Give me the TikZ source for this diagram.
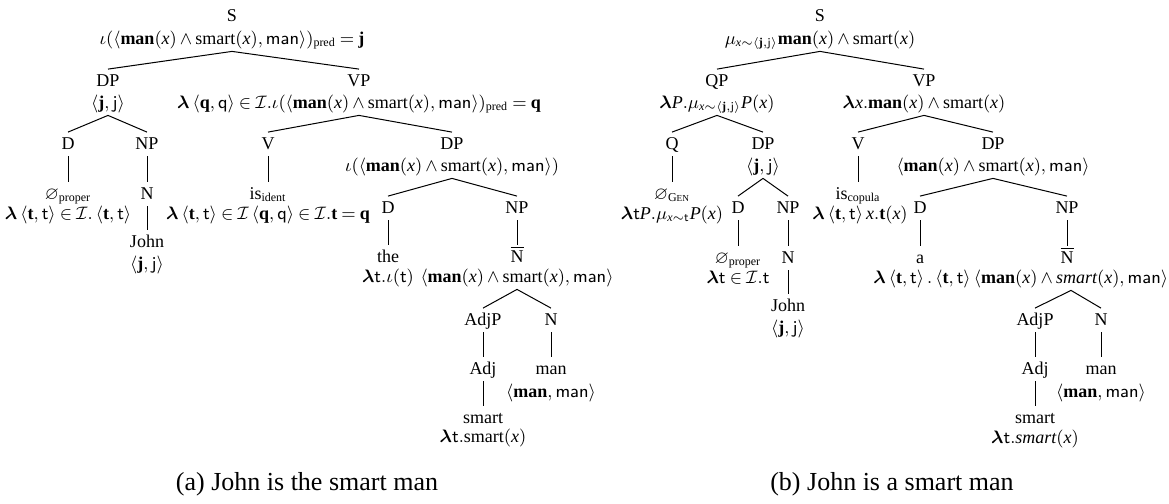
\documentclass[tikz,border=0pt]{standalone}
\usepackage{amsmath,amssymb}
\usepackage{bm}
\usepackage{fontspec}
\setmainfont{Liberation Serif}
\newcommand{\sv}[1]{\text{\normalfont\sffamily #1}}
\newcommand{\bmn}{\mathbf{man}}
\newcommand{\lam}{\bm{\lambda}}
\newcommand{\sI}{\mathcal{I}}
\newcommand{\vx}{\mathit{x}}
\newcommand{\vP}{\mathit{P}}
\newcommand{\pairt}{\langle\mathbf{t},\sv{t}\rangle}
\newcommand{\gencap}{\text{G\fontsize{4.6}{5}\selectfont EN}}
\newcommand{\treefont}{\fontsize{9}{11}\selectfont\medmuskip=3mu plus 2mu minus 3mu\thickmuskip=4mu plus 3mu}
\newcommand{\capfont}{\fontsize{13}{15}\selectfont}
\tikzset{
  lbl/.style={inner xsep=0pt, inner ysep=2pt, text height=6.25pt, text depth=1.5pt, anchor=base, font=\treefont},
  capt/.style={anchor=base, font=\capfont, inner sep=0pt},
  conn/.style={draw, line width=0.5pt}
}
\begin{document}
\begin{tikzpicture}[x=0.5pt,y=-0.5pt]
\useasboundingbox (0,0) rectangle (1169,504);
% ---------- tree (a) ----------
\node[lbl] (aS) at (232,21) {S};
\node[lbl] (aSf) at (232,44) {$\iota(\langle\bmn(\vx)\wedge\mathrm{smart}(\vx),\sv{man}\rangle)_{\mathrm{pred}}=\mathbf{j}$};
\node[lbl] (aDP) at (108,86) {DP};
\node[lbl] (aDPf) at (108,108) {$\langle\mathbf{j},\sv{j}\rangle$};
\node[lbl] (aVP) at (359,86) {VP};
\node[lbl] (aVPf) at (359,108) {$\lam\,\langle\mathbf{q},\sv{q}\rangle\in\sI.\iota(\langle\bmn(\vx)\wedge\mathrm{smart}(\vx),\sv{man}\rangle)_{\mathrm{pred}}=\mathbf{q}$};
\node[lbl] (aD) at (68,149) {D};
\node[lbl] (aDe) at (68,199) {$\varnothing_{\text{proper}}$};
\node[lbl] (aDf) at (68,219) {$\lam\,\pairt\in\sI.\,\pairt$};
\node[lbl] (aNP) at (147,149) {NP};
\node[lbl] (aN) at (147,199) {N};
\node[lbl] (aJ) at (147,247) {John};
\node[lbl] (aJf) at (147,269) {$\langle\mathbf{j},\sv{j}\rangle$};
\node[lbl] (aV) at (268,149) {V};
\node[lbl] (aIs) at (268,199) {is$_{\text{ident}}$};
\node[lbl] (aIsf) at (268,219) {$\lam\,\pairt\in\sI\,\langle\mathbf{q},\sv{q}\rangle\in\sI.\mathbf{t}=\mathbf{q}$};
\node[lbl] (aDP2) at (452,149) {DP};
\node[lbl] (aDP2f) at (452,171) {$\iota(\langle\bmn(\vx)\wedge\mathrm{smart}(\vx),\sv{man}\rangle)$};
\node[lbl] (aD2) at (388,213) {D};
\node[lbl] (aThe) at (388,262) {the};
\node[lbl] (aThef) at (388,282) {$\lam\sv{t}.\iota(\sv{t})$};
\node[lbl] (aNP2) at (517,213) {NP};
\node[lbl] (aNb) at (517,262) {$\overline{\text{N}}$};
\node[lbl] (aNbf) at (517,282) {$\langle\bmn(\vx)\wedge\mathrm{smart}(\vx),\sv{man}\rangle$};
\node[lbl] (aAdjP) at (483,325) {AdjP};
\node[lbl] (aAdj) at (483,374) {Adj};
\node[lbl] (aSm) at (483,423) {smart};
\node[lbl] (aSmf) at (483,442) {$\lam\sv{t}.\mathrm{smart}(\vx)$};
\node[lbl] (aN2) at (551,325) {N};
\node[lbl] (aMan) at (551,374) {man};
\node[lbl] (aManf) at (551,397) {$\langle\bmn,\sv{man}\rangle$};
\path[conn] (aSf.south) -- (aDP.north);
\path[conn] (aSf.south) -- (aVP.north);
\path[conn] (aDPf.south) -- (aD.north);
\path[conn] (aDPf.south) -- (aNP.north);
\path[conn] (aD.south) -- (aDe.north);
\path[conn] (aNP.south) -- (aN.north);
\path[conn] (aN.south) -- (aJ.north);
\path[conn] (aVPf.south) -- (aV.north);
\path[conn] (aVPf.south) -- (aDP2.north);
\path[conn] (aV.south) -- (aIs.north);
\path[conn] (aDP2f.south) -- (aD2.north);
\path[conn] (aDP2f.south) -- (aNP2.north);
\path[conn] (aD2.south) -- (aThe.north);
\path[conn] (aNP2.south) -- (aNb.north);
\path[conn] (aNbf.south) -- (aAdjP.north);
\path[conn] (aNbf.south) -- (aN2.north);
\path[conn] (aAdjP.south) -- (aAdj.north);
\path[conn] (aAdj.south) -- (aSm.north);
\path[conn] (aN2.south) -- (aMan.north);
% ---------- tree (b) ----------
\node[lbl] (bS) at (820,21) {S};
\node[lbl] (bSf) at (820,44) {$\mu_{\vx\sim\langle\mathbf{j},\sv{j}\rangle}\bmn(\vx)\wedge\mathrm{smart}(\vx)$};
\node[lbl] (bQP) at (717,86) {QP};
\node[lbl] (bQPf) at (717,108) {$\lam\vP.\mu_{\vx\sim\langle\mathbf{j},\sv{j}\rangle}\vP(\vx)$};
\node[lbl] (bVP) at (924,86) {VP};
\node[lbl] (bVPf) at (924,108) {$\lam\vx.\bmn(\vx)\wedge\mathrm{smart}(\vx)$};
\node[lbl] (bQ) at (672,149) {Q};
\node[lbl] (bQe) at (672,199) {$\varnothing_{\gencap}$};
\node[lbl] (bQf) at (672,219) {$\lam\sv{t}\vP.\mu_{\vx\sim\sv{t}}\vP(\vx)$};
\node[lbl] (bDP) at (763,149) {DP};
\node[lbl] (bDPf) at (763,171) {$\langle\mathbf{j},\sv{j}\rangle$};
\node[lbl] (bD) at (738,213) {D};
\node[lbl] (bDe) at (738,263) {$\varnothing_{\text{proper}}$};
\node[lbl] (bDf) at (738,283) {$\lam\sv{t}\in\sI.\sv{t}$};
\node[lbl] (bNP) at (788,213) {NP};
\node[lbl] (bN) at (788,263) {N};
\node[lbl] (bJ) at (788,311) {John};
\node[lbl] (bJf) at (788,333) {$\langle\mathbf{j},\sv{j}\rangle$};
\node[lbl] (bV) at (858,149) {V};
\node[lbl] (bIs) at (858,199) {is$_{\text{copula}}$};
\node[lbl] (bIsf) at (860,219) {$\lam\,\pairt\,\vx.\mathbf{t}(\vx)$};
\node[lbl] (bDP2) at (993,149) {DP};
\node[lbl] (bDP2f) at (993,171) {$\langle\bmn(\vx)\wedge\mathrm{smart}(\vx),\sv{man}\rangle$};
\node[lbl] (bD2) at (920,213) {D};
\node[lbl] (bA) at (920,263) {a};
\node[lbl] (bAf) at (922,283) {$\lam\,\pairt\,.\,\pairt$};
\node[lbl] (bNP2) at (1067,213) {NP};
\node[lbl] (bNb) at (1067,263) {$\overline{\text{N}}$};
\node[lbl] (bNbf) at (1071,283) {$\langle\bmn(\vx)\wedge\mathit{smart}(\vx),\sv{man}\rangle$};
\node[lbl] (bAdjP) at (1035,325) {AdjP};
\node[lbl] (bAdj) at (1035,374) {Adj};
\node[lbl] (bSm) at (1035,423) {smart};
\node[lbl] (bSmf) at (1035,443) {$\lam\sv{t}.\mathit{smart}(\vx)$};
\node[lbl] (bN2) at (1101,325) {N};
\node[lbl] (bMan) at (1101,374) {man};
\node[lbl] (bManf) at (1101,397) {$\langle\bmn,\sv{man}\rangle$};
\path[conn] (bSf.south) -- (bQP.north);
\path[conn] (bSf.south) -- (bVP.north);
\path[conn] (bQPf.south) -- (bQ.north);
\path[conn] (bQPf.south) -- (bDP.north);
\path[conn] (bQ.south) -- (bQe.north);
\path[conn] (bDPf.south) -- (bD.north);
\path[conn] (bDPf.south) -- (bNP.north);
\path[conn] (bD.south) -- (bDe.north);
\path[conn] (bNP.south) -- (bN.north);
\path[conn] (bN.south) -- (bJ.north);
\path[conn] (bVPf.south) -- (bV.north);
\path[conn] (bVPf.south) -- (bDP2.north);
\path[conn] (bV.south) -- (bIs.north);
\path[conn] (bDP2f.south) -- (bD2.north);
\path[conn] (bDP2f.south) -- (bNP2.north);
\path[conn] (bD2.south) -- (bA.north);
\path[conn] (bNP2.south) -- (bNb.north);
\path[conn] (bNbf.south) -- (bAdjP.north);
\path[conn] (bNbf.south) -- (bN2.north);
\path[conn] (bAdjP.south) -- (bAdj.north);
\path[conn] (bAdj.south) -- (bSm.north);
\path[conn] (bN2.south) -- (bMan.north);
% ---------- captions ----------
\node[capt] (capa) at (307,490) {(a) John is the smart man};
\node[capt] (capb) at (892,490) {(b) John is a smart man};
\end{tikzpicture}
\end{document}
